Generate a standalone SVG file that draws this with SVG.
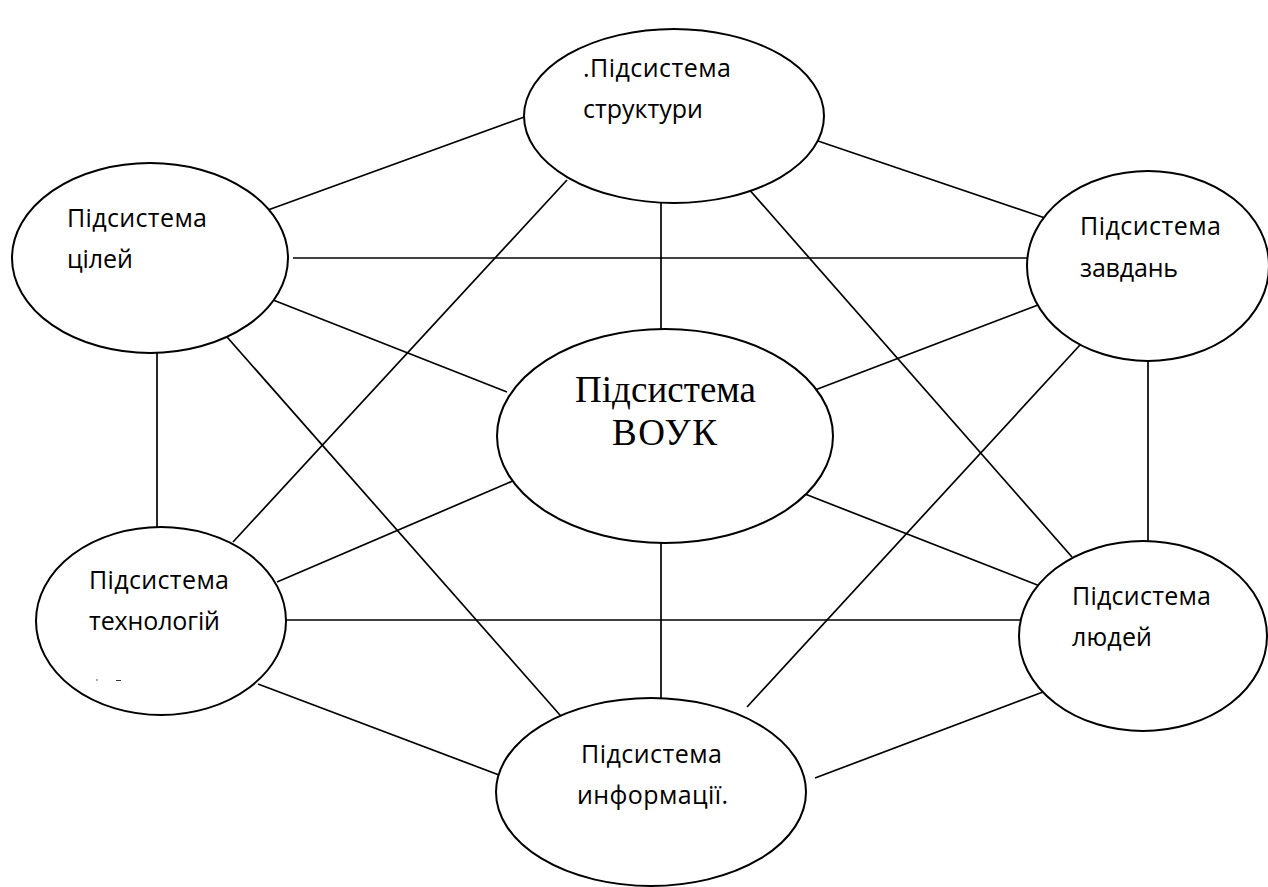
<svg xmlns="http://www.w3.org/2000/svg" width="1268" height="887" viewBox="0 0 1268 887">
  <style>
    .node ellipse { fill: #ffffff; stroke: #000000; stroke-width: 2; }
    .edges line { stroke: #000000; stroke-width: 1.7; }
    .lbl { font-family: "Open Sans", "Noto Sans", "Liberation Sans", sans-serif; font-size: 25px; fill: #000000; }
    .big { font-family: "Liberation Serif", "DejaVu Serif", serif; font-size: 37px; fill: #000000; }
  </style>
  <rect x="0" y="0" width="1268" height="887" fill="#ffffff"/>

  <!-- connectors between subsystems -->
  <g id="connectors" class="edges">
    <line x1="527" y1="116" x2="268" y2="210"/>
    <line x1="815" y1="140" x2="1045" y2="218"/>
    <line x1="661" y1="203" x2="661" y2="329"/>
    <line x1="567" y1="180" x2="233" y2="542"/>
    <line x1="747" y1="187" x2="1072" y2="557"/>
    <line x1="293" y1="258" x2="1027" y2="258"/>
    <line x1="268" y1="298" x2="507" y2="392"/>
    <line x1="157" y1="353" x2="157" y2="527"/>
    <line x1="227" y1="337" x2="567" y2="723"/>
    <line x1="1038" y1="305" x2="815" y2="390"/>
    <line x1="1080" y1="345" x2="747" y2="707"/>
    <line x1="1148" y1="361" x2="1148" y2="542"/>
    <line x1="515" y1="480" x2="277" y2="582"/>
    <line x1="805" y1="494" x2="1045" y2="588"/>
    <line x1="661" y1="542" x2="661" y2="699"/>
    <line x1="285" y1="620" x2="1020" y2="620"/>
    <line x1="258" y1="684" x2="507" y2="778"/>
    <line x1="1043" y1="692" x2="815" y2="778"/>
  </g>

  <g id="node-structure" class="node">
    <ellipse cx="674" cy="116" rx="150" ry="87"/>
    <text class="lbl" x="583" y="77" textLength="148" lengthAdjust="spacing">.Підсистема</text>
    <text class="lbl" x="583" y="118" textLength="120" lengthAdjust="spacing">структури</text>
  </g>

  <g id="node-goals" class="node">
    <ellipse cx="150" cy="258" rx="138" ry="95"/>
    <text class="lbl" x="67" y="227" textLength="140" lengthAdjust="spacing">Підсистема</text>
    <text class="lbl" x="67" y="268" textLength="66" lengthAdjust="spacing">цілей</text>
  </g>

  <g id="node-tasks" class="node">
    <ellipse cx="1148" cy="266" rx="121" ry="95"/>
    <text class="lbl" x="1080" y="235" textLength="141" lengthAdjust="spacing">Підсистема</text>
    <text class="lbl" x="1080" y="277" textLength="98" lengthAdjust="spacing">завдань</text>
  </g>

  <g id="node-voik" class="node">
    <ellipse cx="665" cy="436" rx="168" ry="107"/>
    <text class="big" x="575" y="402" textLength="181" lengthAdjust="spacing">Підсистема</text>
    <text class="big" x="612" y="445" textLength="105" lengthAdjust="spacing">ВОУК</text>
  </g>

  <g id="node-technologies" class="node">
    <ellipse cx="161" cy="621" rx="125" ry="94"/>
    <text class="lbl" x="89" y="589" textLength="140" lengthAdjust="spacing">Підсистема</text>
    <text class="lbl" x="89" y="630" textLength="131" lengthAdjust="spacing">технологій</text>
    <line x1="96" y1="680" x2="98" y2="680" stroke="#555" stroke-width="1"/>
    <line x1="116" y1="680.5" x2="121" y2="680.5" stroke="#333" stroke-width="1"/>
  </g>

  <g id="node-people" class="node">
    <ellipse cx="1143" cy="636" rx="124" ry="95"/>
    <text class="lbl" x="1072" y="605" textLength="139" lengthAdjust="spacing">Підсистема</text>
    <text class="lbl" x="1072" y="646" textLength="80" lengthAdjust="spacing">людей</text>
  </g>

  <g id="node-information" class="node">
    <ellipse cx="651" cy="792" rx="155" ry="94"/>
    <text class="lbl" x="581" y="763" textLength="141" lengthAdjust="spacing">Підсистема</text>
    <text class="lbl" x="577" y="804" textLength="151" lengthAdjust="spacing">информації.</text>
  </g>
</svg>
